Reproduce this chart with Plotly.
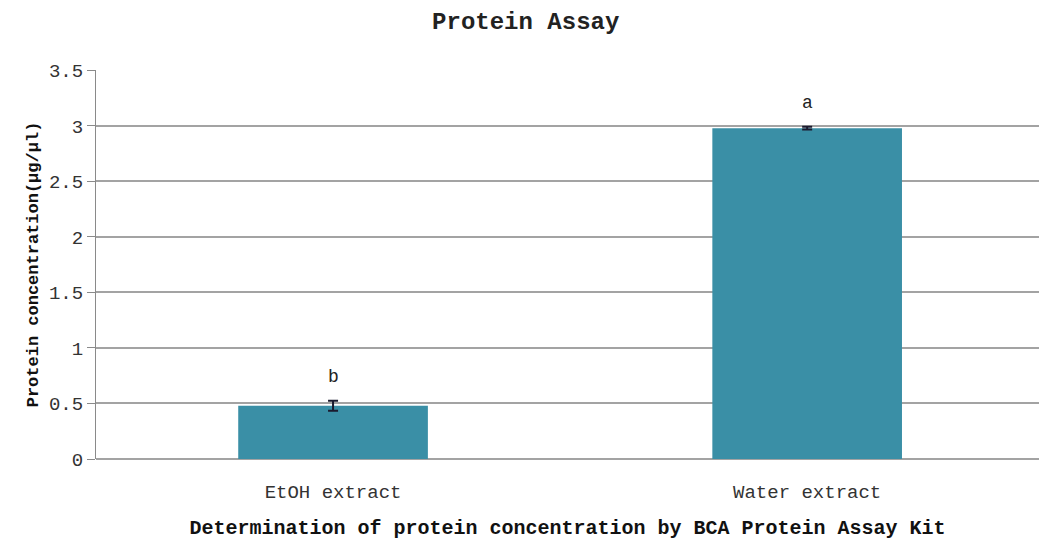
import plotly.graph_objects as go

# Protein assay results (BCA kit)
categories = ["EtOH extract", "Water extract"]
concentration = [0.48, 2.98]
std_err = [0.045, 0.012]
sig_letters = ["b", "a"]
y_ticks = [0, 0.5, 1, 1.5, 2, 2.5, 3, 3.5]
y_tick_text = ["0", "0.5", "1", "1.5", "2", "2.5", "3", "3.5"]

MONO = "Liberation Mono, DejaVu Sans Mono, monospace"
GRID = "#a3a3a3"

fig = go.Figure()
fig.add_trace(go.Bar(
    x=[0, 1],
    y=concentration,
    width=0.40,
    marker=dict(color="#3a8fa6", line=dict(width=0)),
    error_y=dict(type="data", array=std_err, visible=True,
                 color="#1a1a2e", thickness=2, width=5),
    hoverinfo="skip",
))

for i, (val, err, lab) in enumerate(zip(concentration, std_err, sig_letters)):
    fig.add_annotation(x=i, y=val + err, text=lab, showarrow=False,
                       yanchor="bottom", yshift=12,
                       font=dict(family=MONO, size=18, color="#222"))

fig.update_layout(
    width=1039, height=546,
    margin=dict(l=96, r=0, t=70, b=87),
    paper_bgcolor="white", plot_bgcolor="white",
    showlegend=False,
    title=dict(text="<b>Protein Assay</b>", x=0.506, xanchor="center",
               y=0.962, yanchor="middle",
               font=dict(family=MONO, size=24, color="#222")),
    xaxis=dict(
        range=[-0.5, 1.489],
        tickvals=[0, 1], ticktext=categories,
        showgrid=False, zeroline=False, showline=False, ticks="",
        ticklabelstandoff=19,
        tickfont=dict(family=MONO, size=19, color="#333"),
        title=dict(text="<b>Determination of protein concentration by BCA Protein Assay Kit</b>",
                   font=dict(family=MONO, size=20, color="#111"), standoff=16),
    ),
    yaxis=dict(
        range=[0, 3.504],
        tickvals=y_ticks, ticktext=y_tick_text,
        showgrid=True, gridcolor=GRID, gridwidth=1.5,
        zeroline=True, zerolinecolor=GRID, zerolinewidth=1.5,
        showline=True, linecolor="#8a8a8a", linewidth=1,
        ticks="outside", ticklen=8, tickcolor="#8a8a8a",
        tickfont=dict(family=MONO, size=19, color="#333"),
        title=dict(text="<b>Protein concentration(μg/μl)</b>",
                   font=dict(family=MONO, size=17, color="#111"), standoff=6),
    ),
)

fig.write_html("out.html")
